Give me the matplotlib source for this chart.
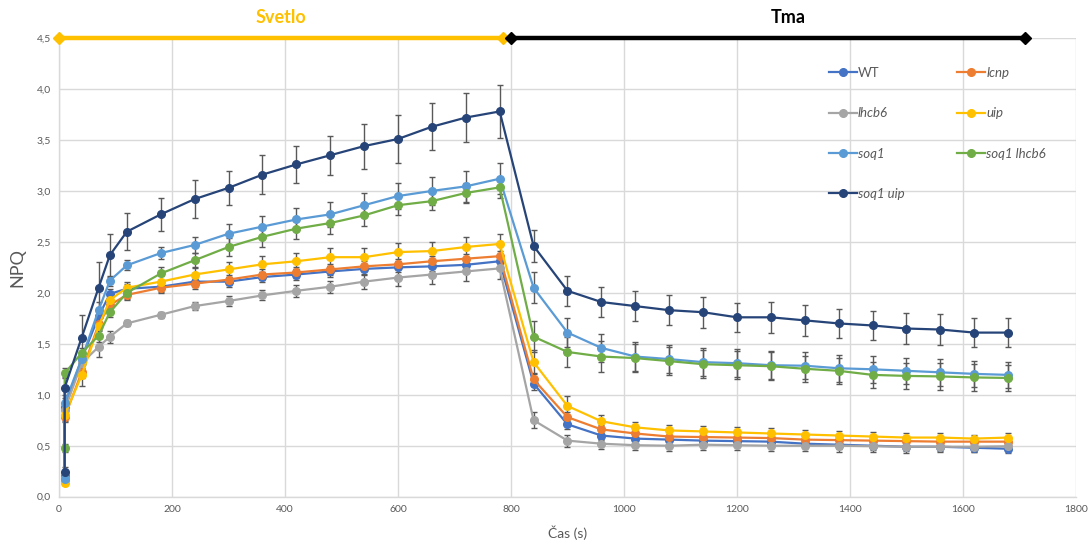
from __future__ import annotations

import matplotlib

matplotlib.use("Agg")
import matplotlib.pyplot as plt
from matplotlib import font_manager

# time points (s); the first two are both taken at 10 s (dark value, then light)
time_s = [10, 10, 40, 70, 90, 120, 180, 240, 300, 360, 420, 480, 540, 600, 660, 720, 780,
          840, 900, 960, 1020, 1080, 1140, 1200, 1260, 1320, 1380, 1440, 1500, 1560, 1620, 1680]

wt = [0.20, 0.88, 1.35, 1.77, 1.99, 2.04, 2.06, 2.11, 2.11, 2.155, 2.18, 2.21, 2.235, 2.25, 2.26, 2.275, 2.31,
      1.11, 0.71, 0.60, 0.57, 0.56, 0.55, 0.545, 0.54, 0.52, 0.51, 0.50, 0.49, 0.49, 0.48, 0.47]
wt_err = [0.02, 0.05, 0.05, 0.06, 0.05, 0.05, 0.05, 0.05, 0.05, 0.05, 0.05, 0.05, 0.05, 0.05, 0.05, 0.05, 0.05,
          0.06, 0.05, 0.04, 0.04, 0.04, 0.04, 0.04, 0.04, 0.04, 0.04, 0.04, 0.04, 0.04, 0.04, 0.04]

lcnp = [0.15, 0.78, 1.22, 1.69, 1.88, 1.98, 2.05, 2.09, 2.13, 2.18, 2.20, 2.23, 2.26, 2.28, 2.31, 2.335, 2.36,
        1.15, 0.78, 0.66, 0.62, 0.59, 0.585, 0.58, 0.575, 0.56, 0.555, 0.55, 0.545, 0.54, 0.54, 0.54]
lcnp_err = [0.02, 0.05, 0.06, 0.06, 0.05, 0.05, 0.05, 0.05, 0.05, 0.05, 0.05, 0.05, 0.05, 0.05, 0.05, 0.05, 0.05,
            0.06, 0.05, 0.04, 0.04, 0.04, 0.04, 0.04, 0.04, 0.04, 0.04, 0.04, 0.04, 0.04, 0.04, 0.04]

lhcb6 = [0.18, 0.85, 1.31, 1.47, 1.57, 1.70, 1.785, 1.87, 1.92, 1.975, 2.02, 2.06, 2.11, 2.15, 2.18, 2.21, 2.24,
         0.75, 0.55, 0.52, 0.505, 0.50, 0.51, 0.505, 0.50, 0.50, 0.50, 0.495, 0.49, 0.49, 0.49, 0.495]
lhcb6_err = [0.02, 0.05, 0.05, 0.10, 0.06, 0.03, 0.03, 0.04, 0.05, 0.05, 0.06, 0.06, 0.07, 0.08, 0.09, 0.09, 0.10,
             0.08, 0.06, 0.05, 0.05, 0.05, 0.05, 0.05, 0.05, 0.05, 0.06, 0.06, 0.06, 0.05, 0.05, 0.05]

uip = [0.13, 0.80, 1.19, 1.67, 1.93, 2.05, 2.11, 2.18, 2.23, 2.28, 2.31, 2.35, 2.35, 2.40, 2.41, 2.45, 2.48,
       1.32, 0.89, 0.74, 0.68, 0.65, 0.64, 0.63, 0.62, 0.61, 0.60, 0.59, 0.58, 0.58, 0.57, 0.58]
uip_err = [0.02, 0.06, 0.10, 0.08, 0.07, 0.06, 0.06, 0.06, 0.07, 0.08, 0.08, 0.09, 0.09, 0.09, 0.09, 0.10, 0.10,
           0.12, 0.10, 0.06, 0.05, 0.05, 0.05, 0.05, 0.05, 0.04, 0.04, 0.04, 0.04, 0.04, 0.04, 0.04]

soq1 = [0.17, 0.92, 1.35, 1.83, 2.12, 2.27, 2.39, 2.47, 2.58, 2.65, 2.72, 2.77, 2.86, 2.95, 3.00, 3.045, 3.12,
        2.05, 1.61, 1.46, 1.375, 1.35, 1.32, 1.31, 1.29, 1.285, 1.26, 1.25, 1.235, 1.22, 1.205, 1.195]
soq1_err = [0.03, 0.08, 0.06, 0.08, 0.05, 0.05, 0.06, 0.08, 0.10, 0.10, 0.11, 0.12, 0.12, 0.13, 0.14, 0.15, 0.15,
            0.15, 0.14, 0.14, 0.14, 0.14, 0.14, 0.14, 0.14, 0.13, 0.13, 0.13, 0.13, 0.13, 0.13, 0.13]

soq1_lhcb6 = [0.48, 1.21, 1.41, 1.58, 1.81, 2.00, 2.19, 2.32, 2.45, 2.55, 2.63, 2.685, 2.76, 2.86, 2.90, 2.98, 3.035,
              1.57, 1.42, 1.375, 1.36, 1.33, 1.30, 1.29, 1.28, 1.255, 1.235, 1.195, 1.185, 1.18, 1.17, 1.165]
soq1_lhcb6_err = [0.04, 0.05, 0.05, 0.06, 0.05, 0.06, 0.06, 0.07, 0.09, 0.10, 0.10, 0.11, 0.10, 0.10, 0.09, 0.10, 0.10,
                  0.15, 0.15, 0.15, 0.14, 0.14, 0.14, 0.14, 0.14, 0.13, 0.13, 0.13, 0.13, 0.13, 0.13, 0.13]

soq1_uip = [0.24, 1.07, 1.56, 2.05, 2.37, 2.60, 2.77, 2.92, 3.03, 3.16, 3.26, 3.35, 3.44, 3.51, 3.63, 3.72, 3.78,
            2.46, 2.02, 1.91, 1.87, 1.83, 1.81, 1.76, 1.76, 1.73, 1.70, 1.68, 1.65, 1.64, 1.61, 1.61]
soq1_uip_err = [0.05, 0.10, 0.22, 0.25, 0.21, 0.18, 0.16, 0.19, 0.17, 0.19, 0.18, 0.19, 0.22, 0.24, 0.23, 0.24, 0.26,
                0.16, 0.15, 0.15, 0.15, 0.15, 0.15, 0.14, 0.15, 0.15, 0.14, 0.14, 0.15, 0.15, 0.14, 0.14]

series_names = ["WT", "lcnp", "lhcb6", "uip", "soq1", "soq1 lhcb6", "soq1 uip"]
series_values = [wt, lcnp, lhcb6, uip, soq1, soq1_lhcb6, soq1_uip]
series_errors = [wt_err, lcnp_err, lhcb6_err, uip_err, soq1_err, soq1_lhcb6_err, soq1_uip_err]
series_colors = ["#4472C4", "#ED7D31", "#A5A5A5", "#FFC000", "#5B9BD5", "#70AD47", "#264478"]

# light / dark periods shown above the plot
light_period = (0, 785)
dark_period = (800, 1710)

x_ticks = [0, 200, 400, 600, 800, 1000, 1200, 1400, 1600, 1800]
y_ticks = [0.0, 0.5, 1.0, 1.5, 2.0, 2.5, 3.0, 3.5, 4.0, 4.5]

TEXT_GREY = "#595959"
GRID_GREY = "#D9D9D9"


def pick_font() -> str:
    installed = {f.name for f in font_manager.fontManager.ttflist}
    for name in ["Lato", "Open Sans", "DejaVu Sans"]:
        if name in installed:
            return name
    return "DejaVu Sans"


def main() -> None:
    plt.rcParams["font.family"] = [pick_font(), "DejaVu Sans"]

    fig = plt.figure(figsize=(10.89, 5.44), dpi=100)
    ax = fig.add_axes([0.0542, 0.087, 0.9338, 0.843])

    handles = []
    for name, values, errors, color in zip(series_names, series_values, series_errors, series_colors):
        cont = ax.errorbar(
            time_s, values, yerr=errors,
            color=color, linewidth=1.6, marker="o", markersize=5.5,
            ecolor="#595959", elinewidth=1.0, capsize=2.5, capthick=1.0,
            label=name,
        )
        handles.append(cont.lines[0])

    ax.set_xlim(0, 1800)
    ax.set_ylim(0, 4.5)
    ax.set_xticks(x_ticks)
    ax.set_xticklabels([str(t) for t in x_ticks])
    ax.set_yticks(y_ticks)
    ax.set_yticklabels([f"{v:.1f}".replace(".", ",") for v in y_ticks])
    ax.tick_params(length=0, labelsize=7.5, labelcolor=TEXT_GREY, pad=6)
    ax.grid(True, color=GRID_GREY, linewidth=1.0)
    ax.set_axisbelow(True)
    for side in ["top", "right"]:
        ax.spines[side].set_visible(False)
    for side in ["left", "bottom"]:
        ax.spines[side].set_color(GRID_GREY)
        ax.spines[side].set_linewidth(1.0)

    ax.set_ylabel("NPQ", fontsize=13, color=TEXT_GREY, labelpad=8)
    ax.set_xlabel("Čas (s)", fontsize=10, color=TEXT_GREY, labelpad=8)

    # light / dark bars along the top edge
    ax.plot(light_period, [4.5, 4.5], color="#FFC000", linewidth=3.2, marker="D",
            markersize=6, clip_on=False, zorder=10)
    ax.plot(dark_period, [4.5, 4.5], color="black", linewidth=3.2, marker="D",
            markersize=6, clip_on=False, zorder=10)
    ax.text(sum(light_period) / 2, 4.7, "Svetlo", color="#FFC000", fontsize=13,
            fontweight="bold", ha="center", va="center")
    ax.text(1290, 4.7, "Tma", color="black", fontsize=13,
            fontweight="bold", ha="center", va="center")

    # legend laid out row-wise: WT, lcnp / lhcb6, uip / soq1, soq1 lhcb6 / soq1 uip
    order = [0, 2, 4, 6, 1, 3, 5]
    leg = ax.legend(
        [handles[i] for i in order], [series_names[i] for i in order],
        ncol=2, loc="upper left", bbox_to_anchor=(0.755, 0.889),
        bbox_transform=fig.transFigure, frameon=False, fontsize=9.5,
        handlelength=2.1, handletextpad=0.1, columnspacing=4.0,
        labelspacing=2.15, borderpad=0, markerscale=1.0,
    )
    for text in leg.get_texts():
        text.set_color(TEXT_GREY)
        if text.get_text() != "WT":
            text.set_style("italic")

    fig.savefig("out.png", dpi=100)
    plt.close(fig)


if __name__ == "__main__":
    main()
